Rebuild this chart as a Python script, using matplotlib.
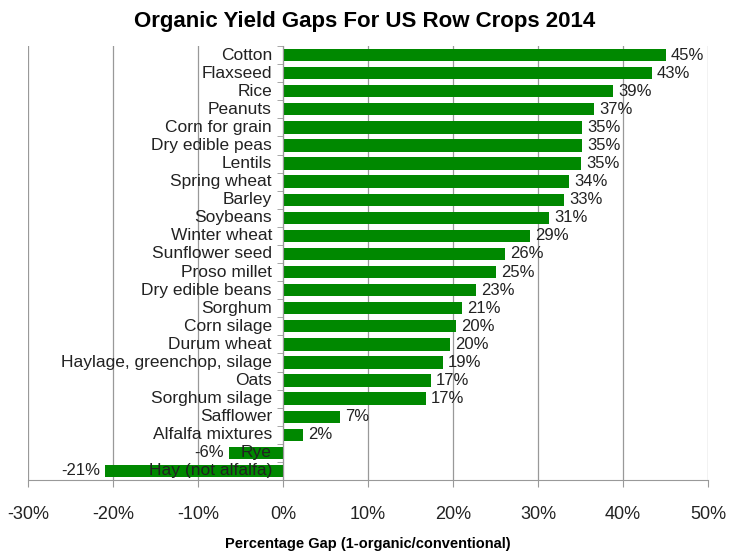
import matplotlib.pyplot as plt
from matplotlib import font_manager
from matplotlib.ticker import FixedLocator

# 字体: 尽量接近原图的窄体
names = {f.name for f in font_manager.fontManager.ttflist}
FONT = 'Liberation Sans Narrow' if 'Liberation Sans Narrow' in names else 'Liberation Sans'
plt.rcParams['font.family'] = [FONT, 'DejaVu Sans']

crops = [
    "Cotton", "Flaxseed", "Rice", "Peanuts", "Corn for grain",
    "Dry edible peas", "Lentils", "Spring wheat", "Barley", "Soybeans",
    "Winter wheat", "Sunflower seed", "Proso millet", "Dry edible beans",
    "Sorghum", "Corn silage", "Durum wheat", "Haylage, greenchop, silage",
    "Oats", "Sorghum silage", "Safflower", "Alfalfa mixtures", "Rye",
    "Hay (not alfalfa)",
]
gap = [
    45.0, 43.4, 38.8, 36.6, 35.2,
    35.2, 35.1, 33.7, 33.1, 31.3,
    29.1, 26.1, 25.1, 22.75,
    21.1, 20.3, 19.7, 18.8,
    17.4, 16.8, 6.7, 2.4, -6.3,
    -20.9,
]
gap_labels = [
    "45%", "43%", "39%", "37%", "35%",
    "35%", "35%", "34%", "33%", "31%",
    "29%", "26%", "25%", "23%",
    "21%", "20%", "20%", "19%",
    "17%", "17%", "7%", "2%", "-6%",
    "-21%",
]
xticks = [-30, -20, -10, 0, 10, 20, 30, 40, 50]

fig = plt.figure(figsize=(7.29, 5.54), dpi=100)
ax = fig.add_axes([28 / 729, 1 - 480 / 554, 680 / 729, (480 - 46) / 554])

ypos = list(range(len(crops)))
ax.barh(ypos, gap, height=0.68, color='#008800', zorder=3)

for y, v, lab, name in zip(ypos, gap, gap_labels, crops):
    if v >= 0:
        ax.text(v + 0.6, y, lab, ha='left', va='center',
                fontsize=12, color='#222222', zorder=4)
    else:
        ax.text(v - 0.6, y, lab, ha='right', va='center',
                fontsize=12, color='#222222', zorder=4)
    ax.text(-1.3, y, name, ha='right', va='center', fontsize=12.5,
            color='#222222', zorder=4)

ax.set_xlim(-30, 50)
ax.set_ylim(len(crops) - 0.5, -0.5)
ax.set_xticks(xticks)
ax.set_xticklabels([f"{t}%" for t in xticks], fontsize=13, color='#222222')
ax.tick_params(axis='x', length=5, color='#999999', pad=14)
ax.xaxis.grid(True, color='#999999', linewidth=0.9, zorder=0)

# 纵轴放在0处, 类别间的小刻度
ax.set_yticks([])
ax.spines['left'].set_position(('data', 0))
ax.spines['left'].set_color('#999999')
ax.spines['left'].set_zorder(5)
ax.yaxis.set_minor_locator(FixedLocator([i - 0.5 for i in range(len(crops) + 1)]))
ax.tick_params(axis='y', which='minor', length=4, color='#999999')
ax.spines['bottom'].set_color('#999999')
ax.spines['top'].set_visible(False)
ax.spines['right'].set_visible(False)

ax.set_xlabel('Percentage Gap (1-organic/conventional)', fontsize=10.5,
              fontweight='bold', labelpad=10)
fig.text(0.5, 1 - 22 / 554, 'Organic Yield Gaps For US Row Crops 2014',
         ha='center', va='center', fontsize=16, fontweight='bold')

fig.savefig('out.png', dpi=100)
